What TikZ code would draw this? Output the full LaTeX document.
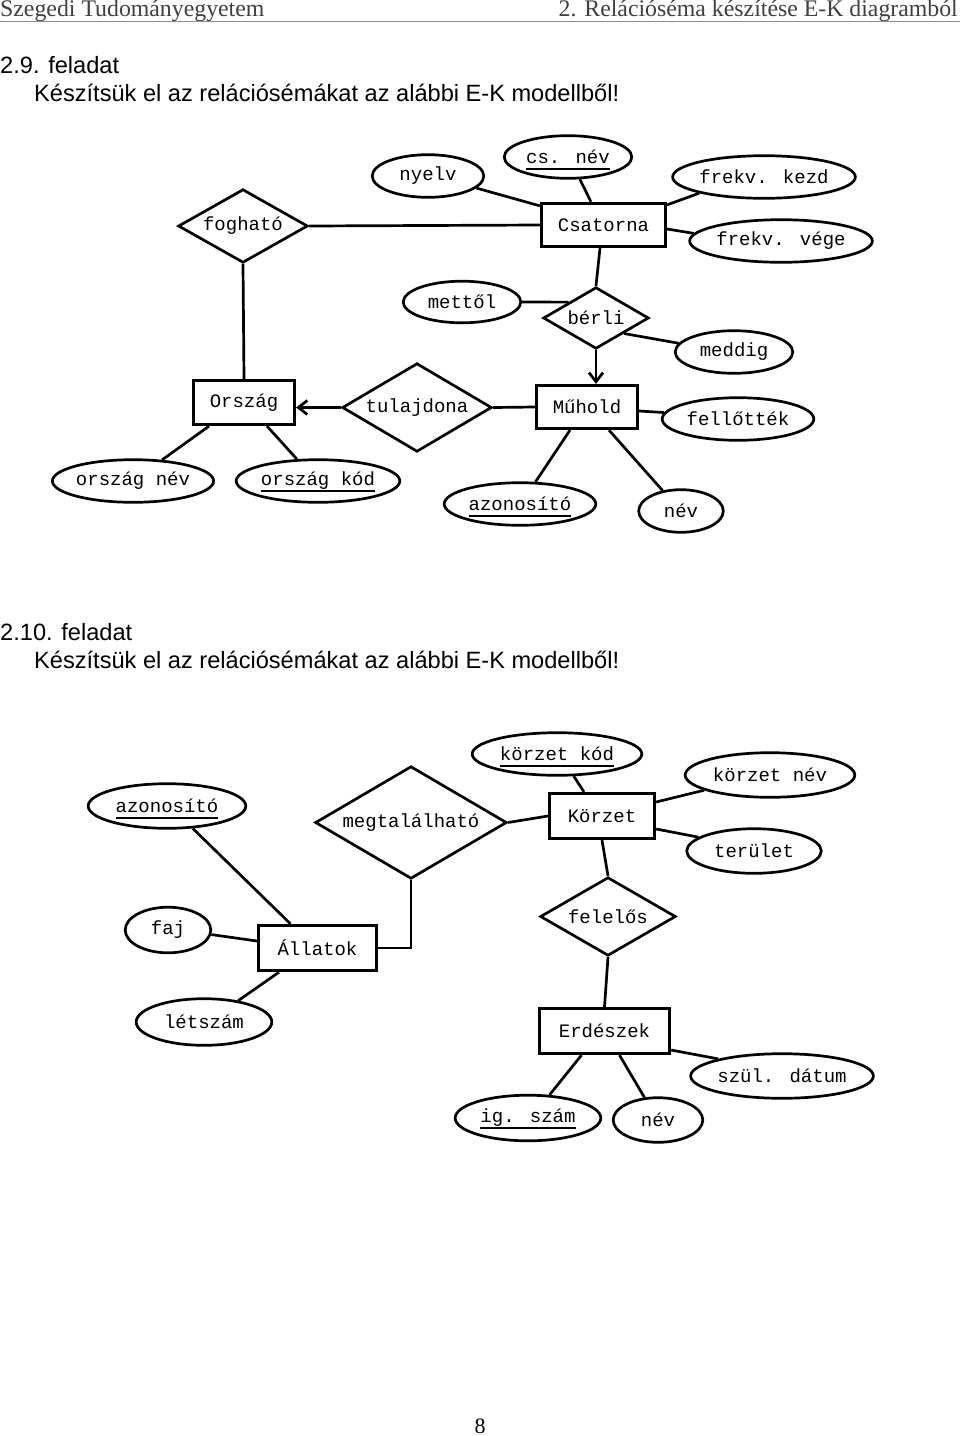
\documentclass[tikz,border=0pt]{standalone}
\usepackage{fontspec}
\setmainfont{Liberation Sans}
\newfontfamily\hdrfont{Liberation Serif}
\newfontfamily\erfont{Liberation Mono}
\usetikzlibrary{shapes.geometric,arrows.meta}
\newcommand\keyul[1]{\setbox0\hbox{#1}\rlap{\smash{\rule[-6.5pt]{\wd0}{2.2pt}}}\box0}
\begin{document}
\begin{tikzpicture}[x=1pt,y=-1pt,
  ertext/.style={font=\erfont\fontsize{19}{21}\selectfont},
  er/.style={ertext, draw, line width=2.7pt, inner sep=0pt},
  ent/.style={er, rectangle},
  att/.style={er, ellipse},
  rel/.style={er, diamond, shape aspect=1.7},
  link/.style={line width=2.7pt},
  arr/.style={link, -{Straight Barb[length=9pt,width=14pt]}},
  hdr/.style={font=\hdrfont\fontsize{23.8}{26}\selectfont, text=black!75, inner sep=0pt},
  ttl/.style={font=\fontsize{23.6}{27}\selectfont, inner sep=0pt, anchor=base west}]
\fill[white] (0,0) rectangle (960,1436);
\useasboundingbox (0,0) rectangle (960,1436);

% header
\node[hdr, anchor=base west] (h1) at (0,16) {Szegedi Tudományegyetem};
\node[hdr, anchor=base east] (h2) at (958,16) {2. Relációséma készítése E-K diagramból};
\draw[black!45, line width=1pt] (0,21.5) -- (960,21.5);

\node[ttl] (t1) at (0,73) {2.9. feladat};
\node[ttl] (t2) at (34,101) {Készítsük el az relációsémákat az alábbi E-K modellből!};
\node[ttl] (t3) at (0,640) {2.10. feladat};
\node[ttl] (t4) at (34,668) {Készítsük el az relációsémákat az alábbi E-K modellből!};

% ---------- diagram 1 ----------
\node[rel, minimum width=129.6pt, minimum height=73.6pt, shape aspect=1.74] (fog) at (243,226) {fogható};
\node[ent, minimum width=124.6pt, minimum height=43.6pt] (csat) at (603.5,225) {Csatorna};
\node[att, minimum width=111.6pt, minimum height=42.6pt] (nyelv) at (428,176) {nyelv};
\node[att, minimum width=127.6pt, minimum height=42.6pt] (csnev) at (568,157) {\keyul{cs. név}};
\node[att, minimum width=173.6pt, minimum height=42.6pt] (fkezd) at (764,177) {frekv. kezd};
\node[att, minimum width=173.6pt, minimum height=42.6pt] (fvege) at (781,241) {frekv. vége};
\node[att, minimum width=117.6pt, minimum height=41.6pt] (mettol) at (462,302) {mettől};
\node[rel, minimum width=105.6pt, minimum height=61.6pt, shape aspect=1.69] (berli) at (596,318) {bérli};
\node[att, minimum width=117.6pt, minimum height=42.6pt] (meddig) at (734,352) {meddig};
\node[ent, minimum width=101.6pt, minimum height=44.6pt] (orsz) at (244,402.5) {Ország};
\node[rel, minimum width=149.6pt, minimum height=88.6pt, shape aspect=1.67] (tul) at (417,407.5) {tulajdona};
\node[ent, minimum width=101.6pt, minimum height=43.6pt] (muhold) at (587,407) {Műhold};
\node[att, minimum width=151.6pt, minimum height=42.6pt] (fell) at (738,419) {fellőtték};
\node[att, minimum width=159.6pt, minimum height=42.6pt] (onev) at (133,481) {ország név};
\node[att, minimum width=163.6pt, minimum height=42.6pt] (okod) at (318,481) {\keyul{ország kód}};
\node[att, minimum width=151.6pt, minimum height=42.6pt] (azon1) at (520,504) {\keyul{azonosító}};
\node[att, minimum width=84.6pt, minimum height=42.6pt] (nev1) at (681,511) {név};

\draw[link] (fog.east) -- (csat.west);
\draw[link] (fog.south) -- (orsz.north);
\draw[link] (nyelv.-14) -- ([yshift=-4pt]csat.north west);
\draw[link] (csnev.-62) -- ([xshift=-12.5pt]csat.north);
\draw[link] (fkezd.-166) -- ([yshift=-3pt]csat.north east);
\draw[link] (fvege.175) -- ([yshift=-4pt]csat.east);
\draw[link] ([xshift=-3.5pt]csat.south) -- (berli.north);
\draw[link] (mettol.east) -- (berli.150);
\draw[link] (berli.-29) -- (meddig.171);
\draw[arr] (berli.south) -- (berli.south |- muhold.north);
\draw[arr] (tul.west) -- (tul.west -| orsz.east);
\draw[link] (tul.east) -- (muhold.west);
\draw[link] ([yshift=-4pt]muhold.east) -- (fell.175);
\draw[link] ([xshift=-35pt]orsz.south) -- (onev.36);
\draw[link] ([xshift=23pt]orsz.south) -- (okod.134);
\draw[link] ([xshift=-17pt]muhold.south) -- (azon1.55);
\draw[link] ([xshift=22pt]muhold.south) -- (nev1.132);

% ---------- diagram 2 ----------
\node[att, minimum width=169.6pt, minimum height=42.6pt] (kkod) at (557,754) {\keyul{körzet kód}};
\node[att, minimum width=169.6pt, minimum height=44.6pt] (knev) at (770,775) {körzet név};
\node[att, minimum width=157.6pt, minimum height=44.6pt] (azon2) at (167,806) {\keyul{azonosító}};
\node[rel, minimum width=191.6pt, minimum height=112.6pt, shape aspect=1.7] (meg) at (411,822.5) {megtalálható};
\node[ent, minimum width=105.6pt, minimum height=45.6pt] (korz) at (602,816) {Körzet};
\node[att, minimum width=134.6pt, minimum height=44.6pt] (terulet) at (754,851) {terület};
\node[rel, minimum width=135.6pt, minimum height=78.6pt, shape aspect=1.7] (fel) at (608,916.5) {felelős};
\node[att, minimum width=85.6pt, minimum height=45.6pt] (faj) at (168,930) {faj};
\node[ent, minimum width=118.6pt, minimum height=45.6pt] (all) at (317.5,948) {Állatok};
\node[att, minimum width=135.6pt, minimum height=46.6pt] (letszam) at (204,1022) {létszám};
\node[ent, minimum width=130.6pt, minimum height=45.6pt] (erd) at (604.5,1031) {Erdészek};
\node[att, minimum width=182.6pt, minimum height=44.6pt] (szul) at (782,1076) {szül. dátum};
\node[att, minimum width=145.6pt, minimum height=45.6pt] (igszam) at (528,1118) {\keyul{ig. szám}};
\node[att, minimum width=89.6pt, minimum height=44.6pt] (nev2) at (658,1120) {név};

\draw[link] (azon2.-41) -- ([xshift=-27pt]all.north);
\draw[link] (meg.south) |- (all.east);
\draw[link] (meg.east) -- (korz.west);
\draw[link] (kkod.-53) -- ([xshift=-18pt]korz.north);
\draw[link] (knev.-167) -- ([yshift=14pt]korz.east);
\draw[link] (terulet.166) -- ([yshift=-13pt]korz.east);
\draw[link] (korz.south) -- (fel.north);
\draw[link] (fel.south) -- (erd.north);
\draw[link] (faj.-6) -- ([yshift=7pt]all.west);
\draw[link] (letszam.32) -- ([xshift=-38.5pt]all.south);
\draw[link] (szul.165) -- ([yshift=-19pt]erd.east);
\draw[link] (igszam.47) -- ([xshift=-23pt]erd.south);
\draw[link] (nev2.121) -- ([xshift=15pt]erd.south);

% page number
\node[font=\hdrfont\fontsize{22}{24}\selectfont, inner sep=0pt] (pg) at (480,1426) {8};
\end{tikzpicture}
\end{document}
